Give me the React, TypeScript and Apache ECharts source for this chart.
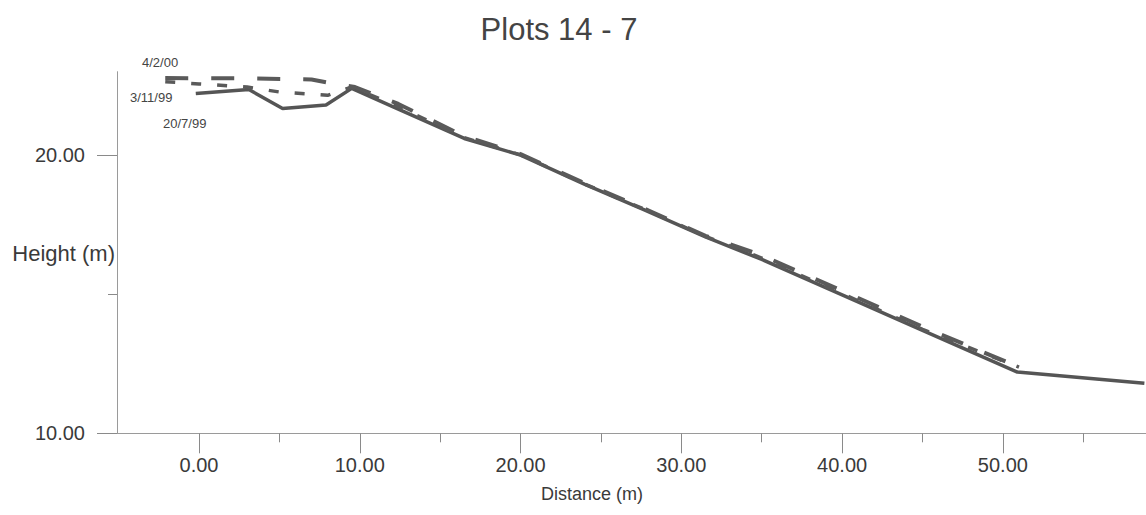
import React, { useEffect, useRef } from "react";
import * as echarts from "echarts";

// ---- data ----
const DIST_200799 = [-0.2, 3.1, 5.2, 7.9, 9.5, 12.5, 16.5, 20.0, 24.0, 27.7, 31.5, 35.0, 40.0, 45.0, 50.9, 58.8];
const H_200799 = [22.22, 22.36, 21.68, 21.8, 22.4, 21.63, 20.6, 20.0, 18.95, 18.03, 17.06, 16.25, 14.98, 13.7, 12.2, 11.8];

const DIST_031199 = [-2.1, 0.0, 3.0, 5.0, 8.0, 9.5, 12.4, 16.5, 20.0, 24.0, 28.0, 31.5, 35.0, 40.0, 45.0, 51.0];
const H_031199 = [22.64, 22.56, 22.45, 22.27, 22.15, 22.45, 21.74, 20.63, 20.01, 18.96, 17.98, 17.08, 16.3, 15.02, 13.74, 12.38];

const DIST_040200 = [-2.1, 3.0, 7.0, 8.3, 9.7, 12.4, 16.5, 20.0, 24.0, 28.0, 31.5, 35.0, 40.0, 45.0, 50.5];
const H_040200 = [22.77, 22.76, 22.72, 22.58, 22.45, 21.84, 20.68, 20.04, 18.99, 18.0, 17.1, 16.4, 15.12, 13.83, 12.5];

const X_MAJOR_TICKS = [0, 10, 20, 30, 40, 50];
const X_MINOR_TICKS = [5, 15, 25, 35, 45, 55];
const Y_MAJOR_TICKS = [10, 20];
const Y_MINOR_TICKS = [15];

const TITLE = "Plots 14 - 7";
const X_NAME = "Distance (m)";
const Y_NAME = "Height (m)";
const SERIES_NAMES = ["20/7/99", "3/11/99", "4/2/00"];

const FONT = "'Liberation Sans', Arial, sans-serif";

function pairs(xs: number[], ys: number[]) {
  return xs.map((x, i) => [x, ys[i]]);
}

export default function App() {
  const ref = useRef<HTMLDivElement>(null);
  useEffect(() => {
    if (!ref.current) return;
    const chart = echarts.init(ref.current, undefined, { renderer: "svg" });
    const axisColor = "#9a9a9a";
    const tickColor = "#8a8a8a";
    const textColor = "#3a3a3a";
    const fmt = (v: number) => v.toFixed(2);
    chart.setOption({
      animation: false,
      backgroundColor: "#ffffff",
      textStyle: { fontFamily: FONT },
      grid: { left: 117, right: 0, top: 71.7, bottom: 81.7, containLabel: false, outerBoundsMode: "none" },
      xAxis: [
        {
          type: "value",
          min: -5.1,
          max: 58.9,
          axisLine: { show: true, onZero: false, lineStyle: { color: axisColor, width: 1 } },
          axisTick: { show: true, customValues: X_MAJOR_TICKS, length: 20, lineStyle: { color: tickColor } },
          axisLabel: {
            customValues: X_MAJOR_TICKS,
            formatter: fmt,
            fontSize: 20,
            color: textColor,
            margin: 22,
            fontFamily: FONT,
          },
          splitLine: { show: false },
        },
        {
          type: "value",
          min: -5.1,
          max: 58.9,
          position: "bottom",
          offset: 0,
          axisLine: { show: false, onZero: false },
          axisTick: { show: true, customValues: X_MINOR_TICKS, length: 9, lineStyle: { color: tickColor } },
          axisLabel: { show: false },
          splitLine: { show: false },
        },
      ],
      yAxis: [
        {
          type: "value",
          min: 10,
          max: 23,
          axisLine: { show: true, onZero: false, lineStyle: { color: axisColor, width: 1 } },
          axisTick: { show: true, customValues: Y_MAJOR_TICKS, length: 20, lineStyle: { color: tickColor } },
          axisLabel: {
            customValues: Y_MAJOR_TICKS,
            formatter: fmt,
            fontSize: 20,
            color: textColor,
            margin: 32,
            fontFamily: FONT,
          },
          splitLine: { show: false },
        },
        {
          type: "value",
          min: 10,
          max: 23,
          position: "left",
          offset: 0,
          axisLine: { show: false, onZero: false },
          axisTick: { show: true, customValues: Y_MINOR_TICKS, length: 9, lineStyle: { color: tickColor } },
          axisLabel: { show: false },
          splitLine: { show: false },
        },
      ],
      series: [
        {
          name: SERIES_NAMES[0],
          type: "line",
          data: pairs(DIST_200799, H_200799),
          showSymbol: false,
          lineStyle: { color: "#555555", width: 3.5, type: "solid" },
        },
        {
          name: SERIES_NAMES[1],
          type: "line",
          data: pairs(DIST_031199, H_031199),
          showSymbol: false,
          lineStyle: { color: "#5a5a5a", width: 3.5, type: [10, 16] },
        },
        {
          name: SERIES_NAMES[2],
          type: "line",
          data: pairs(DIST_040200, H_040200),
          showSymbol: false,
          lineStyle: { color: "#5a5a5a", width: 4, type: [23, 23] },
        },
      ],
      graphic: [
        {
          type: "text",
          x: 559,
          y: 29,
          style: { text: TITLE, fill: "#444", font: `31px ${FONT}`, textAlign: "center", textVerticalAlign: "middle" },
        },
        {
          type: "text",
          x: 592,
          y: 494,
          style: { text: X_NAME, fill: textColor, font: `18px ${FONT}`, textAlign: "center", textVerticalAlign: "middle" },
        },
        {
          type: "text",
          x: 115,
          y: 253,
          style: { text: Y_NAME, fill: textColor, font: `22px ${FONT}`, textAlign: "right", textVerticalAlign: "middle" },
        },
        {
          type: "text",
          x: 142,
          y: 62,
          style: { text: SERIES_NAMES[2], fill: "#444", font: `13px ${FONT}`, textAlign: "left", textVerticalAlign: "middle" },
        },
        {
          type: "text",
          x: 130,
          y: 97,
          style: { text: SERIES_NAMES[1], fill: "#444", font: `13px ${FONT}`, textAlign: "left", textVerticalAlign: "middle" },
        },
        {
          type: "text",
          x: 163,
          y: 123,
          style: { text: SERIES_NAMES[0], fill: "#444", font: `13px ${FONT}`, textAlign: "left", textVerticalAlign: "middle" },
        },
      ],
    });
    return () => chart.dispose();
  }, []);
  return (
    <div
      ref={ref}
      style={{ position: "fixed", left: 0, top: 0, width: 1146, height: 515, background: "#fff" }}
    />
  );
}
